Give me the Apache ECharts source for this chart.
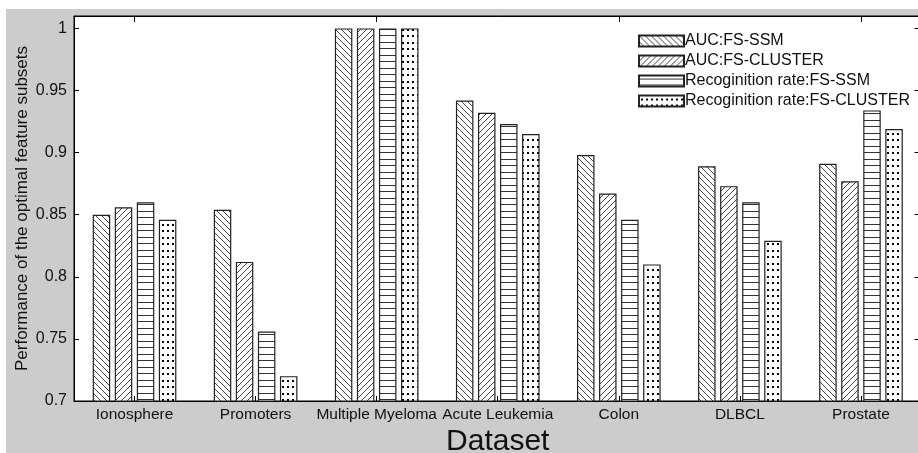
<!DOCTYPE html>
<html>
<head>
<meta charset="utf-8">
<script src="https://cdn.jsdelivr.net/npm/echarts@6/dist/echarts.min.js"></script>
<style>
  html, body { margin: 0; padding: 0; background: #ffffff; overflow: hidden; }
  #bg { position: absolute; left: 6px; top: 9px; width: 912px; height: 444px; background: #cccccc; }
  #chart { position: absolute; left: 0; top: 0; width: 918px; height: 453px; }
</style>
</head>
<body>
<div id="bg"></div>
<div id="chart"></div>
<script>
const categories = ['Ionosphere', 'Promoters', 'Multiple Myeloma', 'Acute Leukemia', 'Colon', 'DLBCL', 'Prostate'];
const aucSSM = [0.850, 0.854, 1.000, 0.942, 0.898, 0.889, 0.891];
const aucCluster = [0.856, 0.812, 1.000, 0.932, 0.867, 0.873, 0.877];
const recSSM = [0.860, 0.756, 1.000, 0.923, 0.846, 0.860, 0.934];
const recCluster = [0.846, 0.720, 1.000, 0.915, 0.810, 0.829, 0.919];
const seriesNames = ['AUC:FS-SSM', 'AUC:FS-CLUSTER', 'Recoginition rate:FS-SSM', 'Recoginition rate:FS-CLUSTER'];
const yTicks = { min: 0.7, max: 1.01, interval: 0.05 };

function makeTile(w, h, draw) {
  const c = document.createElement('canvas');
  c.width = w; c.height = h;
  const ctx = c.getContext('2d');
  ctx.fillStyle = '#ffffff';
  ctx.fillRect(0, 0, w, h);
  draw(ctx, w, h);
  return c;
}
const backTile = makeTile(6, 6, (ctx, w, h) => {
  ctx.strokeStyle = '#444';
  ctx.lineWidth = 1;
  ctx.beginPath();
  ctx.moveTo(-1, -1); ctx.lineTo(w + 1, h + 1);
  ctx.moveTo(-1 - w, -1); ctx.lineTo(1, h + 1);
  ctx.moveTo(w - 1, -1); ctx.lineTo(2 * w + 1, h + 1);
  ctx.stroke();
});
const fwdTile = makeTile(6, 6, (ctx, w, h) => {
  ctx.strokeStyle = '#444';
  ctx.lineWidth = 1;
  ctx.beginPath();
  ctx.moveTo(-1, h + 1); ctx.lineTo(w + 1, -1);
  ctx.moveTo(-1 - w, h + 1); ctx.lineTo(1, -1);
  ctx.moveTo(w - 1, h + 1); ctx.lineTo(2 * w + 1, -1);
  ctx.stroke();
});
const horizTile = makeTile(4, 13, (ctx, w, h) => {
  ctx.fillStyle = '#333';
  ctx.fillRect(0, 3, w, 1);
  ctx.fillRect(0, 9, w, 1);
});
const dotTile = makeTile(5, 13, (ctx, w, h) => {
  ctx.fillStyle = '#000';
  ctx.fillRect(2, 3, 2, 2);
  ctx.fillRect(2, 9, 2, 2);
});
const tiles = [backTile, fwdTile, horizTile, dotTile];
const dataSets = [aucSSM, aucCluster, recSSM, recCluster];

const font = 'Liberation Sans, Arial, sans-serif';
const chart = echarts.init(document.getElementById('chart'), null, { renderer: 'canvas' });

const series = seriesNames.map((name, i) => ({
  name: name,
  type: 'bar',
  data: dataSets[i],
  barWidth: 17.5,
  barGap: '26%',
  itemStyle: {
    color: { image: tiles[i], repeat: 'repeat' },
    borderColor: '#222',
    borderWidth: 1.2
  },
  emphasis: { disabled: true },
  animation: false
}));

chart.setOption({
  animation: false,
  textStyle: { fontFamily: font },
  grid: {
    left: 74, top: 16, right: -3.5, bottom: 52,
    outerBoundsMode: 'none',
    containLabel: false,
    show: true, backgroundColor: '#ffffff', borderColor: '#000', borderWidth: 1
  },
  legend: {
    orient: 'vertical',
    left: 633, top: 28,
    itemWidth: 45, itemHeight: 11, itemGap: 4,
    icon: 'rect',
    selectedMode: false,
    textStyle: { fontFamily: font, fontSize: 16, color: '#111', lineHeight: 16, padding: [0, 0, 0, -4] },
    data: seriesNames
  },
  xAxis: [{
    type: 'category',
    data: categories,
    position: 'bottom',
    axisLine: { show: true, lineStyle: { color: '#000', width: 1 } },
    axisTick: { show: true, inside: true, alignWithLabel: true, length: 5, lineStyle: { color: '#000' } },
    axisLabel: { fontFamily: font, fontSize: 15.5, color: '#111', margin: 6, interval: 0 },
    name: 'Dataset',
    nameLocation: 'middle',
    nameGap: 26,
    nameMoveOverlap: false,
    nameTextStyle: { fontFamily: font, fontSize: 30, color: '#111' }
  }, {
    type: 'category',
    data: categories,
    position: 'top',
    axisLine: { show: true, lineStyle: { color: '#000', width: 1 } },
    axisTick: { show: true, inside: true, alignWithLabel: true, length: 6, lineStyle: { color: '#000' } },
    axisLabel: { show: false }
  }],
  yAxis: [{
    type: 'value',
    min: yTicks.min, max: yTicks.max, interval: yTicks.interval,
    position: 'left',
    splitLine: { show: false },
    axisLine: { show: true, lineStyle: { color: '#000', width: 1 } },
    axisTick: { show: true, inside: true, length: 5, lineStyle: { color: '#000' } },
    axisLabel: {
      fontFamily: font, fontSize: 16, color: '#111', margin: 7, showMaxLabel: false,
      formatter: v => (Math.abs(v - yTicks.max) < 1e-9 ? '' : String(+v.toFixed(2)))
    },
    name: 'Performance of the optimal feature subsets',
    nameLocation: 'middle',
    nameGap: 43,
    nameRotate: 90,
    nameMoveOverlap: false,
    nameTextStyle: { fontFamily: font, fontSize: 17, color: '#111' }
  }, {
    type: 'value',
    min: yTicks.min, max: yTicks.max, interval: yTicks.interval,
    position: 'right',
    splitLine: { show: false },
    axisLine: { show: true, lineStyle: { color: '#000', width: 1 } },
    axisTick: { show: true, inside: true, length: 7, lineStyle: { color: '#000' } },
    axisLabel: { show: false }
  }],
  series: series
});
</script>
</body>
</html>
